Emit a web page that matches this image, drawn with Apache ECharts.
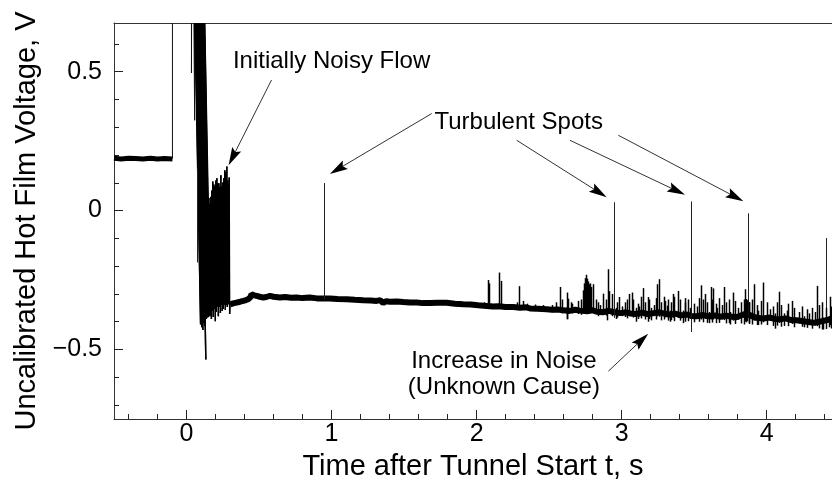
<!DOCTYPE html>
<html><head><meta charset="utf-8">
<script src="https://cdn.jsdelivr.net/npm/echarts@6/dist/echarts.min.js"></script>
<style>html,body{margin:0;padding:0;background:#fff}#c{width:832px;height:483px}</style>
</head><body><div id="c"></div><script>
// ---- tick values ----
const xMajorTicks = [0, 1, 2, 3, 4];
const xMinorTicks = [-0.4,-0.2,0.2,0.4,0.6,0.8,1.2,1.4,1.6,1.8,2.2,2.4,2.6,2.8,3.2,3.4,3.6,3.8,4.2,4.4];
const yMajorTicks = [-0.5, 0, 0.5];
const yMinorTicks = [-0.7,-0.6,-0.4,-0.3,-0.2,-0.1,0.1,0.2,0.3,0.4,0.6];

// ---- pre-start flat signal ----
const flatT = [-0.5,-0.45,-0.4,-0.35,-0.3,-0.25,-0.2,-0.15,-0.097];
const flatV = [0.188,0.186,0.188,0.187,0.186,0.188,0.186,0.187,0.186];

// ---- start-up jumps (thin trace) ----
const stepT = [-0.097,-0.097,0.034,0.034,0.036,0.054,0.056,0.047];
const stepV = [0.187,0.95,0.95,0.495,0.95,0.95,0.325,0.95];

// ---- start-up burst (dense trace) ----
const burstT = [0.047,0.097, 0.051,0.101, 0.055,0.105, 0.059,0.109, 0.063,0.113, 0.067,0.117,
  0.071,0.121, 0.075,0.125, 0.079,0.129, 0.083,0.133, 0.087,0.137, 0.091,0.141,
  0.095,0.145, 0.099,0.149, 0.103,0.153, 0.107,0.157, 0.111,0.161, 0.115,0.165,
  0.140,0.1435, 0.147,0.1505, 0.154,0.1575, 0.161,0.1645, 0.168,0.1715, 0.174,0.1775,
  0.181,0.1845, 0.188,0.1915, 0.195,0.1985, 0.202,0.2055, 0.209,0.2125, 0.216,0.2195,
  0.223,0.2265, 0.230,0.2335, 0.237,0.2405, 0.243,0.2465, 0.250,0.2535, 0.257,0.2605,
  0.264,0.2675, 0.271,0.2745, 0.278,0.2815, 0.285,0.2885, 0.294,0.2975, 0.300];
const burstV = [0.95,-0.410, 0.95,-0.300, 0.95,-0.420, 0.95,-0.395, 0.95,-0.430, 0.95,-0.380,
  0.95,-0.405, 0.95,-0.415, 0.95,-0.370, 0.95,-0.536, 0.95,-0.390, 0.95,-0.365,
  0.95,-0.385, 0.95,-0.360, 0.95,-0.375, 0.95,-0.355, 0.95,-0.380, 0.95,-0.370,
  0.061,-0.369, 0.030,-0.383, 0.045,-0.361, 0.020,-0.376, 0.050,-0.390, 0.072,-0.361,
  0.105,-0.383, 0.094,-0.354, 0.087,-0.398, 0.108,-0.365, 0.116,-0.347, 0.098,-0.380,
  0.098,-0.347, 0.080,-0.369, 0.127,-0.340, 0.087,-0.361, 0.101,-0.354, 0.116,-0.336,
  0.145,-0.358, 0.137,-0.340, 0.159,-0.347, 0.108,-0.332, 0.119,-0.372, -0.338];
// dense core of the burst (solid black region): time, upper and lower edge
const coreT   = [0.100, 0.120, 0.140, 0.150, 0.165, 0.180, 0.200, 0.220, 0.240, 0.260, 0.280, 0.296];
const coreTop = [0.080, 0.080, 0.040, 0.020, 0.030, 0.080, 0.090, 0.085, 0.085, 0.100, 0.100, 0.090];
const coreBot = [-0.400,-0.400,-0.360,-0.365,-0.360,-0.355,-0.350,-0.345,-0.340,-0.340,-0.335,-0.340];

// ---- main trace after start ----
const traceT = [0.300,0.320,0.345,0.370,0.391,0.410,0.425,0.440,0.448,0.465,0.483,0.505,0.529,0.550,0.575,0.600,0.644,0.680,0.720,0.759,0.800,0.850,0.900,0.943,0.989,1.040,1.104,1.160,1.218,1.270,1.310,1.335,1.345,1.356,1.375,1.402,1.450,1.494,1.540,1.586,1.630,1.678,1.730,1.793,1.850,1.908,1.960,2.010,2.069,2.110,2.150,2.200,2.253,2.300,2.340,2.368,2.420,2.483,2.520,2.560,2.598,2.640,2.680,2.713,2.760,2.800,2.828,2.870,2.910,2.943,2.990,3.030,3.058,3.100,3.140,3.180,3.220,3.260,3.287,3.330,3.370,3.410,3.450,3.480,3.517,3.560,3.600,3.640,3.680,3.720,3.747,3.790,3.830,3.862,3.890,3.930,3.977,4.020,4.060,4.092,4.130,4.170,4.207,4.250,4.290,4.322,4.360,4.400,4.437,4.450];
const traceV = [-0.338,-0.334,-0.331,-0.328,-0.325,-0.322,-0.319,-0.312,-0.301,-0.305,-0.307,-0.310,-0.313,-0.311,-0.307,-0.310,-0.313,-0.311,-0.314,-0.313,-0.315,-0.313,-0.316,-0.316,-0.316,-0.318,-0.319,-0.321,-0.323,-0.324,-0.325,-0.322,-0.316,-0.333,-0.326,-0.328,-0.327,-0.329,-0.331,-0.331,-0.333,-0.333,-0.332,-0.332,-0.335,-0.337,-0.338,-0.341,-0.343,-0.345,-0.344,-0.347,-0.347,-0.350,-0.348,-0.352,-0.353,-0.355,-0.357,-0.356,-0.359,-0.361,-0.357,-0.360,-0.362,-0.359,-0.364,-0.366,-0.361,-0.365,-0.369,-0.366,-0.370,-0.372,-0.367,-0.373,-0.369,-0.366,-0.370,-0.375,-0.371,-0.377,-0.374,-0.379,-0.380,-0.376,-0.381,-0.377,-0.382,-0.378,-0.381,-0.384,-0.376,-0.370,-0.378,-0.386,-0.388,-0.385,-0.390,-0.391,-0.388,-0.394,-0.395,-0.398,-0.401,-0.404,-0.400,-0.396,-0.391,-0.393];

// ---- turbulent-spot spikes: time, lower end, upper end ----
const spotT    = [0.945, 2.945, 3.476, 3.869, 4.410, 0.071];
const spotLow  = [-0.318,-0.386,-0.437,-0.380,-0.422,-0.187];
const spotHigh = [0.099, 0.030, 0.033,-0.010,-0.099, 0.152];

// ---- noise spikes: time, lower end, upper end ----
const noiseT = [2.076,2.083,2.154,2.168,2.292,2.317,2.574,2.625,2.632,2.736,2.742,2.749,2.756,2.763,2.770,2.777,2.784,2.791,2.800,
  2.873,2.908,2.915,2.981,3.053,3.069,3.149,3.183,3.246,3.259,3.299,3.352,3.390,3.437,3.545,3.574,3.614,3.628,3.708,
  3.770,3.850,3.856,3.862,3.875,3.915,3.977,4.085,4.177,4.349,4.383,4.437,
  2.050,2.400,2.520,2.620,2.660,2.850,2.900,2.960,3.000,3.100,3.120,3.200,3.220,3.310,3.330,3.420,3.470,3.520,3.600,
  3.660,3.690,3.750,3.800,3.940,4.020,4.060,4.120,4.140,4.220,4.260,4.290,4.330,4.390,4.430,
  2.100,2.220,2.280,2.350,2.460,2.550,2.590,2.650,2.700,2.720,2.820,2.840,2.890,2.930,2.970,3.020,3.040,3.080,3.110,3.130,
  3.160,3.190,3.240,3.270,3.290,3.320,3.340,3.360,3.400,3.440,3.460,3.500,3.530,3.560,3.590,3.620,3.650,3.670,3.720,3.740,
  3.780,3.820,3.840,3.880,3.900,3.930,3.960,4.000,4.040,4.070,4.100,4.150,4.190,4.240,4.280,4.310,4.360,4.410,4.440];
const noiseLow = [-0.345,-0.345,-0.346,-0.346,-0.350,-0.351,-0.358,-0.391,-0.360,-0.362,-0.368,-0.366,-0.370,-0.365,-0.368,-0.364,-0.366,-0.362,-0.365,
  -0.370,-0.372,-0.370,-0.372,-0.378,-0.380,-0.380,-0.400,-0.380,-0.382,-0.384,-0.386,-0.386,-0.388,-0.392,-0.390,-0.392,-0.392,-0.394,
  -0.396,-0.400,-0.402,-0.398,-0.405,-0.396,-0.402,-0.404,-0.408,-0.416,-0.428,-0.412,
  -0.350,-0.362,-0.366,-0.391,-0.370,-0.374,-0.395,-0.390,-0.380,-0.400,-0.382,-0.395,-0.380,-0.382,-0.400,-0.405,-0.388,-0.390,-0.405,
  -0.390,-0.392,-0.410,-0.393,-0.412,-0.396,-0.425,-0.415,-0.400,-0.406,-0.420,-0.410,-0.414,-0.428,-0.420,
  -0.350,-0.352,-0.355,-0.357,-0.362,-0.365,-0.370,-0.368,-0.372,-0.375,-0.372,-0.380,-0.378,-0.380,-0.385,-0.383,-0.388,-0.385,-0.390,-0.388,
  -0.392,-0.390,-0.392,-0.395,-0.392,-0.396,-0.394,-0.398,-0.396,-0.400,-0.398,-0.402,-0.400,-0.402,-0.404,-0.403,-0.405,-0.404,-0.406,-0.405,
  -0.408,-0.406,-0.410,-0.408,-0.410,-0.412,-0.410,-0.412,-0.415,-0.414,-0.418,-0.416,-0.420,-0.418,-0.422,-0.425,-0.424,-0.426,-0.424];
const noiseHigh = [-0.250,-0.262,-0.223,-0.253,-0.272,-0.325,-0.275,-0.295,-0.317,-0.287,-0.262,-0.243,-0.231,-0.245,-0.255,-0.265,-0.262,-0.275,-0.265,
  -0.299,-0.211,-0.290,-0.311,-0.300,-0.295,-0.279,-0.311,-0.265,-0.247,-0.325,-0.300,-0.289,-0.315,-0.269,-0.300,-0.275,-0.280,-0.275,
  -0.295,-0.283,-0.318,-0.322,-0.330,-0.265,-0.259,-0.292,-0.325,-0.271,-0.330,-0.310,
  -0.330,-0.338,-0.340,-0.345,-0.335,-0.340,-0.350,-0.350,-0.345,-0.350,-0.345,-0.350,-0.340,-0.342,-0.360,-0.360,-0.350,-0.345,-0.365,
  -0.350,-0.340,-0.365,-0.350,-0.360,-0.355,-0.370,-0.370,-0.360,-0.365,-0.380,-0.370,-0.365,-0.385,-0.380,
  -0.335,-0.338,-0.330,-0.335,-0.340,-0.330,-0.320,-0.330,-0.325,-0.320,-0.320,-0.330,-0.320,-0.300,-0.330,-0.330,-0.320,-0.320,-0.335,-0.310,
  -0.330,-0.320,-0.315,-0.330,-0.310,-0.320,-0.330,-0.310,-0.320,-0.330,-0.320,-0.335,-0.315,-0.320,-0.330,-0.320,-0.335,-0.315,-0.330,-0.320,
  -0.325,-0.330,-0.320,-0.330,-0.320,-0.340,-0.325,-0.330,-0.345,-0.330,-0.340,-0.335,-0.350,-0.345,-0.355,-0.350,-0.340,-0.350,-0.345];

// ---- annotations ----
const noteText = ['Initially Noisy Flow', 'Turbulent Spots', 'Increase in Noise\n(Unknown Cause)'];
const noteT = [1.000, 2.290, 2.188];
const noteV = [0.537, 0.316, -0.588];
const arrowFromT = [0.586, 1.690, 2.276, 2.643, 2.977, 2.908];
const arrowFromV = [0.470, 0.349, 0.253, 0.253, 0.271, -0.578];
const arrowToT   = [0.290, 0.988, 2.897, 3.437, 3.839, 3.183];
const arrowToV   = [0.163, 0.132, 0.048, 0.057, 0.034, -0.443];

const FONT = '"Liberation Sans", Arial, Helvetica, sans-serif';
const X_MIN = -0.5, X_MAX = 4.45, Y_MIN = -0.75, Y_MAX = 0.675;
const zip = (a, b) => a.map((v, i) => [v, b[i]]);
const fmtNum = v => (v < 0 ? '\u2212' + Math.abs(v) : String(v));

const baseX = { type: 'value', min: X_MIN, max: X_MAX, splitLine: { show: false } };
const baseY = { type: 'value', min: Y_MIN, max: Y_MAX, splitLine: { show: false } };

function spikeSeries(name, t, lo, hi, width, color) {
  return { type: 'custom', name: name, silent: true, clip: true, z: 3,
    data: t.map((v, i) => [v, lo[i], hi[i]]),
    encode: { x: 0, y: [1, 2] },
    renderItem: function (params, api) {
      const a = api.coord([api.value(0), api.value(1)]);
      const b = api.coord([api.value(0), api.value(2)]);
      const x = Math.round(a[0]) + (width % 2 ? 0.5 : 0);
      return { type: 'line', shape: { x1: x, y1: a[1], x2: x, y2: b[1] }, style: { stroke: color, lineWidth: width } };
    } };
}
function segmentSeries(name, t, v, width, color) {
  const segs = [];
  for (let i = 0; i + 1 < t.length; i++) segs.push([t[i], v[i], t[i + 1], v[i + 1]]);
  return { type: 'custom', name: name, silent: true, clip: true, z: 3,
    data: segs,
    encode: { x: [0, 2], y: [1, 3] },
    renderItem: function (params, api) {
      const a = api.coord([api.value(0), api.value(1)]);
      const b = api.coord([api.value(2), api.value(3)]);
      return { type: 'line', shape: { x1: a[0], y1: a[1], x2: b[0], y2: b[1] }, style: { stroke: color, lineWidth: width } };
    } };
}

const option = {
  animation: false,
  backgroundColor: '#fff',
  grid: { left: 114, right: 0, top: 23, bottom: 64, outerBoundsMode: 'none', containLabel: false },
  xAxis: [
    Object.assign({}, baseX, {
      position: 'bottom',
      axisLine: { show: true, onZero: false, lineStyle: { color: '#333', width: 1 } },
      axisTick: { show: true, inside: true, length: 9, customValues: xMajorTicks, lineStyle: { color: '#222', width: 1 } },
      axisLabel: { show: true, customValues: xMajorTicks, margin: 3, fontSize: 25, color: '#000', fontFamily: FONT, formatter: fmtNum },
      name: 'Time after Tunnel Start t, s', nameLocation: 'middle', nameGap: 33,
      nameTextStyle: { fontSize: 29, color: '#000', fontFamily: FONT }
    }),
    Object.assign({}, baseX, {
      position: 'bottom',
      axisLine: { show: false, onZero: false },
      axisTick: { show: true, inside: true, length: 5, customValues: xMinorTicks, lineStyle: { color: '#222', width: 1 } },
      axisLabel: { show: false }
    }),
    Object.assign({}, baseX, {
      position: 'top',
      axisLine: { show: true, onZero: false, lineStyle: { color: '#333', width: 1 } },
      axisTick: { show: false }, axisLabel: { show: false }
    })
  ],
  yAxis: [
    Object.assign({}, baseY, {
      position: 'left',
      axisLine: { show: true, onZero: false, lineStyle: { color: '#333', width: 1 } },
      axisTick: { show: true, inside: true, length: 9, customValues: yMajorTicks, lineStyle: { color: '#222', width: 1 } },
      axisLabel: { show: true, customValues: yMajorTicks, margin: 12, fontSize: 25, color: '#000', fontFamily: FONT, formatter: fmtNum },
      name: 'Uncalibrated Hot Film Voltage, V', nameLocation: 'middle', nameGap: 71,
      nameTextStyle: { fontSize: 29, color: '#000', fontFamily: FONT }
    }),
    Object.assign({}, baseY, {
      position: 'left',
      axisLine: { show: false, onZero: false },
      axisTick: { show: true, inside: true, length: 5, customValues: yMinorTicks, lineStyle: { color: '#222', width: 1 } },
      axisLabel: { show: false }
    })
  ],
  series: [
    { type: 'line', name: 'flat', data: zip(flatT, flatV), showSymbol: false, silent: true, clip: true,
      lineStyle: { color: '#000', width: 5 }, z: 2 },
    { type: 'line', name: 'trace', data: zip(traceT, traceV), showSymbol: false, silent: true, clip: true,
      lineStyle: { color: '#000', width: 6 }, z: 2 },
    { type: 'custom', name: 'core', silent: true, clip: true, z: 2,
      data: [[coreT[0], coreBot[0]]],
      encode: { x: 0, y: 1 },
      renderItem: function (params, api) {
        const pts = [];
        for (let i = 0; i < coreT.length; i++) pts.push(api.coord([coreT[i], coreTop[i]]));
        for (let i = coreT.length - 1; i >= 0; i--) pts.push(api.coord([coreT[i], coreBot[i]]));
        return { type: 'polygon', shape: { points: pts }, style: { fill: '#000' } };
      } },
    segmentSeries('steps', stepT, stepV, 1, '#111'),
    segmentSeries('burst', burstT, burstV, 1.4, '#000'),
    spikeSeries('spots', spotT, spotLow, spotHigh, 1, '#222'),
    spikeSeries('noise', noiseT, noiseLow, noiseHigh, 1.5, '#000'),
    { type: 'custom', name: 'arrows', silent: true, z: 4,
      data: arrowFromT.map((t, i) => [t, arrowFromV[i], arrowToT[i], arrowToV[i]]),
      encode: { x: [0, 2], y: [1, 3] },
      renderItem: function (params, api) {
        const p1 = api.coord([api.value(0), api.value(1)]);
        const p2 = api.coord([api.value(2), api.value(3)]);
        const dx = p2[0] - p1[0], dy = p2[1] - p1[1];
        const len = Math.sqrt(dx * dx + dy * dy);
        const ux = dx / len, uy = dy / len;
        const L = 18, W = 5, N = 3;
        const bx = p2[0] - ux * L, by = p2[1] - uy * L;
        return { type: 'group', children: [
          { type: 'line', shape: { x1: p1[0], y1: p1[1], x2: bx + ux * N, y2: by + uy * N }, style: { stroke: '#333', lineWidth: 1 } },
          { type: 'polygon', shape: { points: [
              [p2[0], p2[1]],
              [bx - uy * W, by + ux * W],
              [bx + ux * N, by + uy * N],
              [bx + uy * W, by - ux * W]
            ] }, style: { fill: '#000' } }
        ] };
      } },
    { type: 'custom', name: 'notes', silent: true, z: 5,
      data: noteT.map((t, i) => [t, noteV[i]]),
      encode: { x: 0, y: 1 },
      renderItem: function (params, api) {
        const p = api.coord([api.value(0), api.value(1)]);
        return { type: 'text', x: p[0], y: p[1], style: {
          text: noteText[params.dataIndex], align: 'center', verticalAlign: 'middle',
          fontSize: 24, fontFamily: FONT, fill: '#000', lineHeight: 26 } };
      } }
  ]
};
const chart = echarts.init(document.getElementById('c'), null, { renderer: 'canvas' });
chart.setOption(option);
</script></body></html>
